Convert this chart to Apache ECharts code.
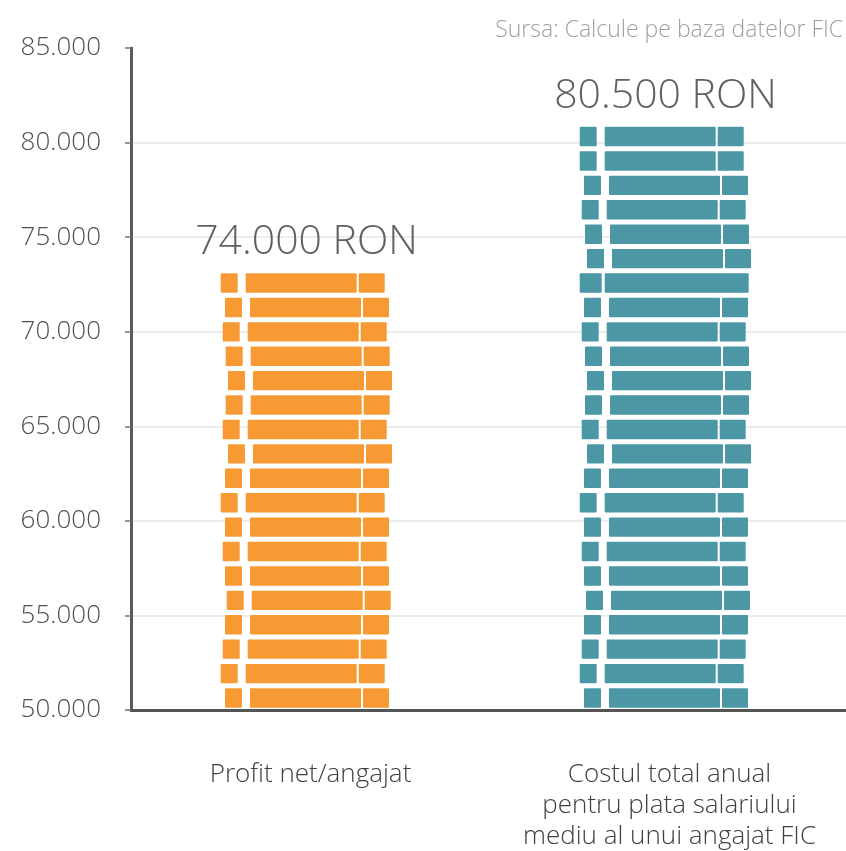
<!DOCTYPE html>
<html>
<head>
<meta charset="utf-8">
<script src="https://cdn.jsdelivr.net/npm/echarts@6/dist/echarts.min.js"></script>
<style>
  html, body { margin: 0; background: #fff; }
  #chart { width: 846px; height: 851px; }
</style>
</head>
<body>
<div id="chart"></div>
<script>
// data
const categories = [
  'Profit net/angajat',
  'Costul total anual\npentru plata salariului\nmediu al unui angajat FIC',
];
const values = [73100, 80900];
const valueLabels = ['74.000 RON', '80.500 RON'];
const barColors = ['#F79A34', '#4C97A6'];
const yMin = 50000;
const yMax = 85000;
const yStep = 5000;
const sourceText = 'Sursa: Calcule pe baza datelor FIC';

const FONT = '"Open Sans", Lato, sans-serif';

// brick look (pixels)
const ROW = 24.41;
const BRICK_H = 19.4;
const brickShift = [
  [0, 4.3, 2, 5, 7.3, 5, 2, 7.3, 4.3, 0, 4.3, 2, 4.3, 6, 4.3, 2, 0, 4.3],
  [0, 0, 4.3, 2, 5.3, 7.3, 0, 4.3, 2, 5.3, 7.3, 5.3, 2, 7.3, 4.3, 0, 4.3, 2, 4.3, 6.3, 4.3, 2, 0, 4.3],
];
const mergedRows = [[], [6]];

const fmt = (v) => String(v).replace(/\B(?=(\d{3})+(?!\d))/g, '.');

function renderBricks(params, api) {
  const idx = params.dataIndex;
  const top = api.coord([api.value(0), api.value(1)]);
  const base = api.coord([api.value(0), yMin]);
  const cx = top[0];
  const n = Math.round((base[1] - top[1]) / ROW);
  const shifts = brickShift[idx];
  const children = [];
  for (let r = 0; r < n; r++) {
    // r counted from the top row
    const y = base[1] - (n - r) * ROW + 2.7;
    const x = cx - 89.8 + shifts[r % shifts.length];
    const parts = mergedRows[idx].includes(r)
      ? [[0, 22], [25, 169]]
      : [[0, 17], [25, 136], [138, 164]];
    parts.forEach((p) => {
      children.push({
        type: 'rect',
        shape: { x: x + p[0], y: y, width: p[1] - p[0], height: BRICK_H, r: 1 },
        style: { fill: barColors[idx] },
      });
    });
  }
  const labelY = base[1] - n * ROW + 2.7 - 31;
  children.push({
    type: 'text',
    x: cx - 4,
    y: labelY,
    style: {
      text: valueLabels[idx],
      fill: '#606060',
      fontSize: 41,
      fontWeight: 300,
      fontFamily: FONT,
      align: 'center',
      verticalAlign: 'middle',
    },
  });
  return { type: 'group', children };
}

const chart = echarts.init(document.getElementById('chart'));

chart.setOption({
  animation: false,
  title: {
    text: sourceText,
    right: -2,
    top: 14,
    textStyle: { fontSize: 23, fontWeight: 300, color: '#a0a0a0', fontFamily: FONT },
  },
  grid: { left: 131, top: 48, width: 718, height: 662, outerBoundsMode: 'none' },
  xAxis: {
    type: 'category',
    data: categories,
    axisLine: { lineStyle: { color: '#555', width: 3 } },
    axisTick: { show: false },
    axisLabel: {
      interval: 0, margin: 49, fontSize: 26, lineHeight: 31, color: '#404040',
      fontWeight: 300, fontFamily: FONT,
    },
    splitLine: { show: false },
  },
  yAxis: {
    type: 'value',
    min: yMin,
    max: yMax,
    interval: yStep,
    axisLine: { show: true, lineStyle: { color: '#5a5a5a', width: 3 } },
    axisTick: { show: true, length: 6, lineStyle: { color: '#777', width: 1.5 } },
    axisLabel: {
      margin: 30, fontSize: 26, color: '#505050',
      fontWeight: 300, fontFamily: FONT, formatter: fmt,
    },
    splitLine: {
      show: true,
      showMinLine: false,
      showMaxLine: false,
      lineStyle: { color: '#e6e6e6', width: 1.5 },
    },
  },
  series: [
    {
      type: 'custom',
      renderItem: renderBricks,
      encode: { x: 0, y: 1 },
      data: values.map((v, i) => [i, v]),
      clip: false,
    },
  ],
});

window.addEventListener('resize', () => chart.resize());
</script>
</body>
</html>
